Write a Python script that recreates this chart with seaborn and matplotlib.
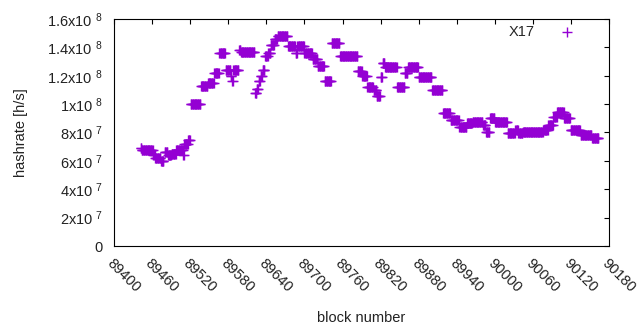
import numpy as np
import pandas as pd
import seaborn as sns
import matplotlib.pyplot as plt

# hashrate plateaus: first block, last block, rate [h/s]
seg_start = [89442, 89444, 89462, 89465, 89474, 89480, 89485, 89491, 89498, 89509,
             89511, 89517, 89521, 89537, 89548, 89558, 89566, 89576, 89584, 89586,
             89588, 89597, 89600, 89622, 89625, 89628, 89631, 89634, 89638, 89643,
             89647, 89653, 89658, 89674, 89686, 89689, 89700, 89713, 89721, 89732,
             89743, 89756, 89784, 89791, 89799, 89809, 89814, 89820, 89823, 89827,
             89846, 89858, 89863, 89880, 89901, 89918, 89930, 89944, 89956, 89965,
             89981, 89986, 89992, 90000, 90020, 90032, 90037, 90044, 90076, 90084,
             90092, 90098, 90109, 90119, 90135, 90153]
seg_end = [89443, 89461, 89464, 89473, 89478, 89484, 89490, 89497, 89508, 89510,
           89516, 89520, 89536, 89547, 89557, 89565, 89575, 89583, 89585, 89587,
           89596, 89599, 89621, 89624, 89627, 89630, 89633, 89637, 89642, 89646,
           89652, 89657, 89673, 89685, 89688, 89699, 89712, 89720, 89731, 89742,
           89755, 89783, 89790, 89798, 89808, 89813, 89819, 89822, 89826, 89845,
           89857, 89862, 89879, 89900, 89917, 89929, 89943, 89955, 89964, 89980,
           89985, 89991, 89999, 90019, 90031, 90036, 90043, 90075, 90083, 90091,
           90097, 90108, 90118, 90134, 90152, 90163]
seg_rate = [6.9e7, 6.75e7, 6.4e7, 6.17e7, 6.0e7, 6.6e7, 6.4e7, 6.5e7, 6.8e7, 6.4e7,
            7.2e7, 7.5e7, 1.0e8, 1.13e8, 1.15e8, 1.22e8, 1.36e8, 1.24e8, 1.2e8, 1.16e8,
            1.24e8, 1.38e8, 1.37e8, 1.08e8, 1.11e8, 1.16e8, 1.2e8, 1.24e8, 1.34e8, 1.36e8,
            1.42e8, 1.46e8, 1.48e8, 1.41e8, 1.36e8, 1.41e8, 1.36e8, 1.32e8, 1.27e8, 1.16e8,
            1.43e8, 1.34e8, 1.23e8, 1.2e8, 1.12e8, 1.1e8, 1.06e8, 1.19e8, 1.29e8, 1.26e8,
            1.12e8, 1.22e8, 1.26e8, 1.19e8, 1.1e8, 9.34e7, 8.85e7, 8.4e7, 8.67e7, 8.77e7,
            8.5e7, 8.0e7, 9.0e7, 8.77e7, 7.93e7, 8.2e7, 7.95e7, 8.07e7, 8.2e7, 8.5e7,
            9.1e7, 9.45e7, 8.99e7, 8.18e7, 7.82e7, 7.58e7]

ytick_vals = [0, 2e7, 4e7, 6e7, 8e7, 1e8, 1.2e8, 1.4e8, 1.6e8]
ytick_labels = ["0", "2x10 $^{7}$", "4x10 $^{7}$", "6x10 $^{7}$", "8x10 $^{7}$",
                "1x10 $^{8}$", "1.2x10 $^{8}$", "1.4x10 $^{8}$", "1.6x10 $^{8}$"]

# one row per block: each block carries the rate of its plateau
blocks, rates = [], []
for a, b, r in zip(seg_start, seg_end, seg_rate):
    for blk in range(a, b + 1):
        blocks.append(blk)
        rates.append(r)
df = pd.DataFrame({"block": blocks, "hashrate": rates})

sns.set_style("white")
plt.rcParams["font.family"] = ["Liberation Sans", "DejaVu Sans"]
plt.rcParams["mathtext.fontset"] = "custom"
plt.rcParams["mathtext.rm"] = "Liberation Sans"
plt.rcParams["mathtext.default"] = "regular"

fig = plt.figure(figsize=(6.4, 3.3), dpi=100)
ax = fig.add_axes([0.178, 0.2545, 0.774, 0.688])

sns.scatterplot(data=df, x="block", y="hashrate", marker="+", color="#9400d3",
                s=62, linewidth=1.0, label="X17", ax=ax)

ax.set_xlim(89400, 90180)
ax.set_ylim(0, 1.6e8)
ax.set_xticks(range(89400, 90181, 60))
ax.set_yticks(ytick_vals)
ax.set_yticklabels(ytick_labels)
for lbl in ax.get_xticklabels():
    lbl.set_rotation(-45)
    lbl.set_ha("left")
    lbl.set_va("top")
    lbl.set_rotation_mode("anchor")

ax.tick_params(direction="in", length=3.5, width=0.8, top=True, right=True,
               labelsize=10.5, colors="black", labelcolor="#222222")
ax.tick_params(axis="y", pad=8)
ax.tick_params(axis="x", pad=7)
for sp in ax.spines.values():
    sp.set_color("black")
    sp.set_linewidth(0.8)

ax.set_xlabel("block number", fontsize=10.5, color="#222222", labelpad=12)
ax.set_ylabel("hashrate [h/s]", fontsize=10.5, color="#222222", labelpad=14)

ax.legend(loc="upper right", frameon=False, markerfirst=False, fontsize=10.5,
          handletextpad=1.2, borderaxespad=0.3, bbox_to_anchor=(0.965, 1.018))

fig.savefig("out.png", dpi=100)
